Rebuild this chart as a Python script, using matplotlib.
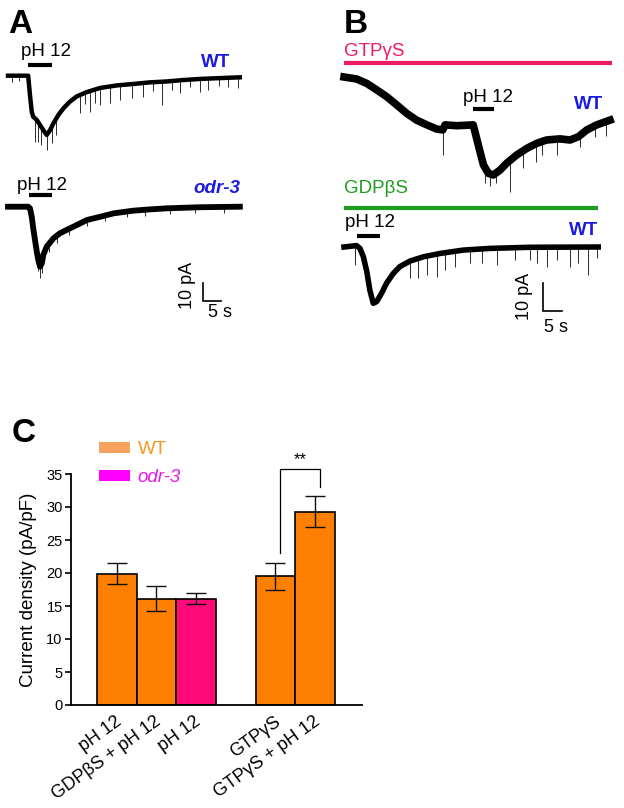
import matplotlib
matplotlib.use('Agg')
import matplotlib.pyplot as plt
from matplotlib.patches import Patch
import matplotlib.transforms as mtransforms

plt.rcParams['font.family'] = ['Liberation Sans', 'DejaVu Sans']

# ------------------------------------------------------------------ data
# Panel A, WT trace (time in s, current in pA)
a_wt_t = [0, 5.6, 6.1, 6.6, 7.0, 8.0, 8.9, 9.8, 10.75, 11.7, 12.6, 14.0, 15.4, 17.2,
          19.1, 21.9, 25.6, 30.2, 34.8, 39.4, 44.1, 48.7, 53.3, 58.0, 64.4]
a_wt_i = [0, 0, -10.7, -20, -22.8, -24.6, -27.4, -30.2, -32.9, -30.2, -26.5, -21.8, -18.1,
          -14.4, -11.5, -9.1, -6.8, -5.4, -4.6, -3.7, -3.2, -2.4, -1.8, -1.4, -0.9]
a_wt_spike_t = [1.0, 3.0, 7.4, 8.3, 9.3, 10.7, 12.1, 13.3, 20, 21.4, 22.8, 24.2, 25.6,
                28.3, 31.1, 34.4, 37.6, 40.2, 42.9, 45.5, 47.8, 50.5, 53.3, 55.6, 58.7,
                61.0, 64]
a_wt_spike_top = [0, 0, -24, -26, -29, -32, -28, -24, -10.8, -9.8, -8.8, -7.8, -6.8,
                  -6, -5.3, -4.6, -4, -3.6, -3.3, -2.9, -2.5, -2.1, -1.8, -1.6, -1.4,
                  -1.2, -1]
a_wt_spike_bot = [-3.5, -3, -36.7, -37.0, -38.5, -41.3, -37.6, -33.0, -20.9, -16.0, -20,
                  -15.0, -16.3, -15.3, -13.5, -12.6, -11.7, -8.5, -16.3, -8.0, -9.8,
                  -6.5, -8.9, -7.9, -6.0, -6.5, -7]
a_wt_ph = [5.6, 12.2]

# Panel A, odr-3 trace
a_odr_t = [0, 5.6, 6.1, 6.6, 7.0, 7.5, 8.0, 8.4, 8.9, 9.4, 9.8, 10.75, 12.6, 14.4, 16.3,
           19.1, 21.9, 25.6, 29.3, 34.8, 39.4, 44.1, 53.3, 64.4]
a_odr_i = [0, 0, -0.9, -5.6, -12.0, -18.5, -25, -29.6, -33.3, -31.5, -26.8, -22.2, -17.6,
           -14.8, -12.9, -10.2, -7.4, -5.6, -3.7, -2.2, -1.5, -0.9, -0.3, 0]
a_odr_spike_t = [8.4, 8.9, 9.4, 11.5, 13.5, 17, 22, 27, 33, 38, 45, 52, 60]
a_odr_spike_top = [-29, -33, -31, -20, -16, -12, -7, -5, -2.8, -1.8, -0.8, -0.3, 0]
a_odr_spike_bot = [-36, -39.8, -37, -25, -20, -16, -11, -8, -6, -5, -4, -3.5, -3.5]
a_odr_ph = [5.8, 12.2]

# Panel B, GTPgammaS trace
b_gtp_t = [0, 3.3, 6.0, 8.6, 11.2, 13.9, 16.5, 19.1, 21.8, 24.4, 26.0, 26.6, 29.7, 34.0,
           34.9, 35.8, 36.7, 38.0, 39.3, 41.1, 42.8, 45.4, 48.1, 50.7, 53.3, 56.8, 59.5,
           61.7, 63.9, 66.5, 70.0]
b_gtp_i = [0, -0.7, -2.3, -4.6, -7.0, -10.0, -13.0, -15.4, -17.1, -18.6, -18.9, -17.1,
           -17.4, -17.1, -21.9, -26.7, -31.4, -34.4, -35.0, -33.2, -30.8, -27.9, -25.5,
           -23.7, -22.5, -22.1, -22.5, -21.3, -18.9, -17.1, -15.4]
b_gtp_spike_t = [26.0, 37.0, 38.5, 40.0, 43.7, 47.0, 50.5, 52.0, 56.0, 62.0, 66.0, 69.0]
b_gtp_spike_top = [-18.9, -32, -34, -34, -30, -26, -24, -23, -22, -21, -17, -16]
b_gtp_spike_bot = [-27.9, -38, -39, -38, -41, -32.5, -30.2, -28, -27.9, -25, -21.3, -21]
b_gtp_ph = [34.0, 39.5]
b_gtp_drug = [0, 70.5]

# Panel B, GDPbetaS trace
b_gdp_t = [0, 3.3, 4.2, 5.1, 6.0, 6.8, 7.7, 8.6, 9.9, 11.2, 13.0, 14.7, 17.4, 20.9, 25.3,
           31.4, 38.4, 48.9, 66.9]
b_gdp_i = [0, 0.5, -0.5, -3.5, -8.8, -15.4, -20.1, -19.5, -16.5, -12.9, -9.4, -7.0, -5.0,
           -3.5, -2.3, -1.1, -0.5, -0.1, 0]
b_gdp_spike_t = [2.9, 17.4, 19.6, 21.8, 24.4, 26.6, 29.2, 33.2, 36.2, 40.2, 45.0, 48.9,
                 50.7, 53.3, 56.0, 59.5, 61.7, 64.3, 66.5]
b_gdp_spike_top = [0, -5, -4, -3.3, -2.6, -2.1, -1.5, -1, -0.7, -0.4, -0.2, -0.1, 0, 0,
                   0, 0, 0, 0, 0]
b_gdp_spike_bot = [-6.4, -11.2, -11.2, -10, -10.6, -8.2, -7.0, -5.8, -5.8, -6.4, -4.6,
                   -4.6, -5.8, -7.0, -4.6, -7.0, -5.8, -10.0, -3.9]
b_gdp_ph = [3.4, 9.5]
b_gdp_drug = [0, 66.8]

scale_s = 5
scale_pA = 10

# Panel C
c_labels = ['pH 12', 'GDPβS + pH 12', 'pH 12', 'GTPγS', 'GTPγS + pH 12']
c_values = [19.9, 16.1, 16.1, 19.5, 29.3]
c_errors = [1.55, 1.9, 0.8, 2.0, 2.4]
c_groups = ['WT', 'WT', 'odr-3', 'WT', 'WT']
c_positions = [0, 1, 2, 4, 5]

# ------------------------------------------------------------------ figure
W, H = 624, 808
fig = plt.figure(figsize=(W / 100, H / 100), dpi=100)

BLUE = '#1a1ae0'
PINK = '#ee1a62'
GREEN = '#1e9e1e'


def trace_axes(box, origin, px_per_s, px_per_pA):
    x0, y0, x1, y1 = box
    ax = fig.add_axes([x0 / W, 1 - y1 / H, (x1 - x0) / W, (y1 - y0) / H])
    ox, oy = origin
    ax.set_xlim((x0 - ox) / px_per_s, (x1 - ox) / px_per_s)
    ax.set_ylim(-(y1 - oy) / px_per_pA, -(y0 - oy) / px_per_pA)
    ax.axis('off')
    return ax


def draw_trace(ax, t, i, st, stop, sbot, lw):
    ax.vlines(st, sbot, stop, color='#2a2a2a', lw=0.7, zorder=1)
    ax.plot(t, i, color='black', lw=lw, solid_joinstyle='round', zorder=2)


def stim_bar(ax, span, level, color='black', lw=3.0):
    ax.plot(span, [level, level], color=color, lw=lw, solid_capstyle='butt',
            clip_on=False)


def scale_bar(ax, t0, i0):
    ax.plot([t0, t0, t0 + scale_s], [i0 + scale_pA, i0, i0], color='black', lw=1.2,
            clip_on=False, solid_joinstyle='miter')


FS = 13.5

# ---- Panel A
axA1 = trace_axes((0, 35, 312, 165), (8, 75.7), 3.6, 1.8)
draw_trace(axA1, a_wt_t, a_wt_i, a_wt_spike_t, a_wt_spike_top, a_wt_spike_bot, 3.2)
stim_bar(axA1, a_wt_ph, 5.9)
axA1.text(3.6, 13.5, 'pH 12', fontsize=FS, ha='left', va='center')
axA1.text(61.7, 7.6, 'WT', fontsize=FS, ha='right', va='center', color=BLUE,
          fontweight='bold')

axA2 = trace_axes((0, 165, 312, 340), (8, 206.7), 3.6, 1.8)
draw_trace(axA2, a_odr_t, a_odr_i, a_odr_spike_t, a_odr_spike_top, a_odr_spike_bot, 4.2)
stim_bar(axA2, a_odr_ph, 6.5)
axA2.text(2.5, 11.5, 'pH 12', fontsize=FS, ha='left', va='center')
axA2.text(64.4, 10.3, 'odr-3', fontsize=FS, ha='right', va='center', color=BLUE,
          fontweight='bold', fontstyle='italic')
scale_bar(axA2, 54.2, -52.4)
axA2.text(50.0, -44, '10 pA', fontsize=13, rotation=90, ha='center', va='center')
axA2.text(58.9, -59, '5 s', fontsize=13, ha='center', va='center')

# ---- Panel B
axB1 = trace_axes((312, 35, 624, 195), (344, 77), 3.8, 2.8)
draw_trace(axB1, b_gtp_t, b_gtp_i, b_gtp_spike_t, b_gtp_spike_top, b_gtp_spike_bot, 5.5)
stim_bar(axB1, b_gtp_drug, 5.0, color=PINK, lw=3.0)
stim_bar(axB1, b_gtp_ph, -11.4)
axB1.text(0, 9.0, 'GTPγS', fontsize=FS, ha='left', va='center', color=PINK)
axB1.text(31.3, -7.5, 'pH 12', fontsize=FS, ha='left', va='center')
axB1.text(68.2, -10, 'WT', fontsize=FS, ha='right', va='center', color=BLUE,
          fontweight='bold')

axB2 = trace_axes((312, 195, 624, 345), (344, 247), 3.8, 2.8)
draw_trace(axB2, b_gdp_t, b_gdp_i, b_gdp_spike_t, b_gdp_spike_top, b_gdp_spike_bot, 4.0)
stim_bar(axB2, b_gdp_drug, 13.9, color=GREEN, lw=3.0)
stim_bar(axB2, b_gdp_ph, 3.9)
axB2.text(0, 21, 'GDPβS', fontsize=FS, ha='left', va='center', color=GREEN)
axB2.text(0.3, 8.6, 'pH 12', fontsize=FS, ha='left', va='center')
axB2.text(66.8, 6, 'WT', fontsize=FS, ha='right', va='center', color=BLUE,
          fontweight='bold')
scale_bar(axB2, 52.3, -22.8)
axB2.text(47.6, -17.5, '10 pA', fontsize=13, rotation=90, ha='center', va='center')
axB2.text(55.8, -28.6, '5 s', fontsize=13, ha='center', va='center')

# ---- Panel C
x0, y0, x1, y1 = 71, 474, 362, 705
axC = fig.add_axes([x0 / W, 1 - y1 / H, (x1 - x0) / W, (y1 - y0) / H])
group_color = {'WT': '#ff8000', 'odr-3': '#ff0a78'}
axC.bar(c_positions, c_values, width=1.0, color=[group_color[g] for g in c_groups],
        edgecolor='black', linewidth=1.2, yerr=c_errors, capsize=7,
        error_kw=dict(elinewidth=1.0, capthick=1.0, ecolor='#111111'))
axC.set_xlim(-1.15, 6.18)
axC.set_ylim(0, 35)
axC.set_yticks(range(0, 36, 5))
for s in ('top', 'right'):
    axC.spines[s].set_visible(False)
for s in ('left', 'bottom'):
    axC.spines[s].set_linewidth(1.3)
axC.tick_params(axis='y', length=4, width=1.2, labelsize=10.5, pad=2)
axC.set_xticks(c_positions)
axC.set_xticklabels(c_labels, rotation=36, ha='right', va='top', fontsize=13)
axC.tick_params(axis='x', length=0, pad=6)
offset = mtransforms.ScaledTranslation(8 / 100, 0, fig.dpi_scale_trans)
for lab in axC.get_xticklabels():
    lab.set_transform(lab.get_transform() + offset)
axC.set_ylabel('Current density (pA/pF)', fontsize=FS)
axC.yaxis.set_label_coords((37 - x0) / (x1 - x0), 0.5)

# significance bracket
axC.plot([4.12, 4.12, 5.12, 5.12], [23.0, 35.8, 35.8, 33.0], color='black', lw=0.9,
         clip_on=False)
axC.text(4.62, 36.0, '**', fontsize=12, ha='center', va='bottom')

handles = [Patch(facecolor='#f6a35e', edgecolor='none'),
           Patch(facecolor='#ff00ff', edgecolor='none')]
leg = axC.legend(handles, ['WT', 'odr-3'], loc='upper left',
                 bbox_to_anchor=(99 / W, 1 - 441 / H), bbox_transform=fig.transFigure,
                 frameon=False, fontsize=FS, handlelength=1.65, handleheight=0.5,
                 handletextpad=0.4, labelspacing=0.6, borderaxespad=0, borderpad=0,
                 labelcolor=['#f39a1e', '#e619e6'])
leg.get_texts()[1].set_fontstyle('italic')

# panel letters
fig.text(8 / W, 1 - 33 / H, 'A', fontsize=24, fontweight='bold', va='baseline')
fig.text(344 / W, 1 - 33 / H, 'B', fontsize=24, fontweight='bold', va='baseline')
fig.text(12 / W, 1 - 442 / H, 'C', fontsize=24, fontweight='bold', va='baseline')

fig.savefig('out.png', dpi=100)
